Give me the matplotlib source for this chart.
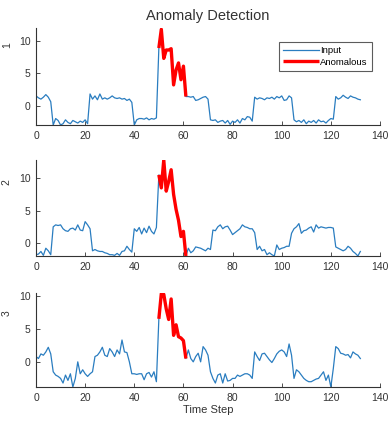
import matplotlib
matplotlib.use("Agg")
import matplotlib.pyplot as plt
import numpy as np

plt.rcParams['font.family'] = ['Liberation Sans', 'DejaVu Sans']

time_step = list(range(133))
anomaly_start = 50
anomaly_end = 61

series_1 = [1.5, 1.2, 1.0, 1.3, 1.7, 1.3, 0.6,
            -3.0, -2.0, -2.3, -3.0, -2.8, -2.2, -2.6, -2.8, -2.3, -2.5, -2.7, -2.4, -2.6, -2.2, -2.8,
            1.8, 1.0, 1.5, 0.9, 1.8, 1.0, 1.2, 1.0, 1.2, 1.5, 1.2, 1.1, 1.2, 1.0, 1.1, 0.8, 1.0, 0.5,
            -3.0, -2.2, -2.0, -2.0, -2.1, -1.9, -2.2, -2.0, -2.1, -1.9,
            8.9, 11.8, 7.3, 8.6, 8.6, 8.8, 3.2, 5.5, 6.6, 4.0, 6.1, 1.4,
            1.4, 1.3, 1.4, 0.8, 0.9, 1.1, 1.3, 1.4, 1.0,
            -2.2, -2.3, -2.2, -2.6, -2.4, -2.3, -2.7, -2.3, -2.9, -2.4, -2.6, -2.2, -2.7, -2.0, -2.2, -1.7, -1.8, -2.4,
            1.3, 1.0, 1.2, 1.1, 0.9, 1.2, 1.1, 1.3, 1.0, 1.4, 1.2, 1.5, 0.8, 0.9, 1.5, 1.2,
            -2.2, -2.5, -2.3, -2.6, -2.2, -2.8, -2.4, -2.6, -2.3, -2.7, -2.2, -2.5, -2.4, -2.7, -2.3, -2.0, -2.1,
            1.4, 1.0, 1.2, 1.6, 1.3, 1.1, 1.5, 1.3, 1.2, 1.0, 0.9]

series_2 = [-1.8, -1.7, -1.3, -1.9, -0.8, -1.2, -1.8,
            2.5, 2.8, 2.7, 2.8, 2.2, 1.9, 1.8, 2.2, 2.3, 2.0, 2.8, 2.0, 1.9, 3.3, 2.8, 2.2,
            -1.2, -1.0, -1.2, -1.3, -1.3, -1.5, -1.6, -1.8, -1.8, -1.9, -1.6, -1.9, -1.3, -1.2, -0.5, -1.0, -1.4,
            2.2, 1.8, 2.4, 1.4, 2.3, 1.6, 2.6, 1.8, 1.4, 2.4,
            10.5, 8.5, 12.8, 8.0, 9.5, 11.3, 7.5, 5.2, 3.5, 1.0, 1.8, -2.0,
            -0.8, -1.5, -1.2, -0.6, -0.7, -0.8, -1.0, -1.2, -0.8, -1.0,
            2.0, 1.9, 2.5, 2.8, 2.2, 2.5, 2.6, 2.0, 1.3, 1.6, 1.9, 2.2, 2.8, 2.5, 2.4, 2.2, 2.2, 1.6,
            -1.0, -0.5, -1.2, -1.0, -1.8, -1.5, -1.8, -2.0, -0.3, -1.0, -0.8, -0.7, -0.5, -0.5, 1.5,
            2.2, 2.5, 3.0, 1.5, 1.9, 2.0, 2.3, 2.5, 1.7, 2.8, 2.3, 2.5, 2.4, 2.3, 2.4, 2.4, 2.3,
            -0.6, -0.8, -1.0, -1.2, -1.0, -0.5, -0.8, -1.3, -1.6, -2.0, -1.3]

series_3 = [0.8, 0.5, 1.2, 1.0, 1.5, 2.2, 1.2,
            -1.5, -2.0, -2.2, -2.5, -3.2, -2.0, -2.8, -1.8, -3.8, -2.5, 0.0, -1.8, -1.2, -1.8, -2.2, -1.8, -1.5,
            0.8, 1.0, 1.5, 2.2, 1.0, 0.8, 2.0, 1.5, 0.8, 1.8, 1.2, 3.3, 1.5, 1.4, 0.0, -1.8,
            -1.8, -1.9, -1.8, -1.8, -2.7, -1.8, -1.6, -2.3, -1.5, -3.0,
            6.5, 10.3, 10.2, 8.0, 6.4, 9.5, 4.0, 5.6, 3.8, 3.6, 3.2, 0.5,
            1.8, 0.5, 0.0, 0.8, 1.3, 0.0, 2.3, 1.8, 1.0,
            -1.5, -2.5, -3.2, -2.0, -1.8, -3.2, -1.8, -2.9, -2.8, -2.5, -2.5, -2.0, -2.2, -2.0, -1.8, -1.8, -2.0, -2.5,
            1.5, 0.8, 0.2, 1.2, 1.3, 0.8, 0.3, -0.1, 0.5, 1.2, 1.6, 1.8, 1.5, 0.8, 2.7, 1.0,
            -2.5, -1.2, -1.5, -2.0, -2.5, -2.8, -3.0, -3.0, -2.8, -2.6, -2.5, -2.0, -1.5, -2.8, -2.0, -3.8, -1.0,
            2.3, 2.0, 1.3, 1.2, 1.0, 1.1, 0.6, 1.5, 1.2, 1.0, 0.5]

channel_labels = ["1", "2", "3"]
all_series = [series_1, series_2, series_3]
x_ticks = [0, 20, 40, 60, 80, 100, 120, 140]
y_ticks = [0, 5, 10]
y_limits = [(-3.0, 12.0), (-2.0, 12.8), (-3.8, 10.4)]
ylabel_pos = [0.82, 0.77, 0.79]

blue = '#2a7dc0'
dark = '#333333'

fig = plt.figure(figsize=(3.9, 4.25), dpi=100)
rects = [
    [36/390, (425-125)/425, 344/390, 97/425],
    [36/390, (425-256)/425, 344/390, 96/425],
    [36/390, (425-387)/425, 344/390, 94/425],
]

t = np.array(time_step)
for i, (series, rect) in enumerate(zip(all_series, rects)):
    ax = fig.add_axes(rect)
    y = np.array(series)
    ax.plot(t, y, color=blue, lw=0.9, label='Input')
    m = (t >= anomaly_start) & (t <= anomaly_end)
    ax.plot(t[m], y[m], color='red', lw=2.4, label='Anomalous',
            solid_joinstyle='round', solid_capstyle='butt')
    ax.set_xlim(0, 140)
    ax.set_ylim(*y_limits[i])
    ax.set_xticks(x_ticks)
    ax.set_yticks(y_ticks)
    for s in ['top', 'right']:
        ax.spines[s].set_visible(False)
    for s in ['left', 'bottom']:
        ax.spines[s].set_color(dark)
        ax.spines[s].set_linewidth(0.8)
    ax.tick_params(direction='in', length=3, width=0.6, colors=dark,
                   labelsize=7.5, pad=4)
    ax.set_ylabel(channel_labels[i], fontsize=7.5, color=dark)
    ax.yaxis.set_label_coords(-0.07, ylabel_pos[i])
    if i == 0:
        ax.set_title('Anomaly Detection', fontsize=10.5, color=dark, pad=6)
        leg = ax.legend(loc='upper right', bbox_to_anchor=(0.977, 0.86),
                        fontsize=6.8, frameon=True, fancybox=False,
                        handlelength=3.8, borderpad=0.45, labelspacing=0.3,
                        handletextpad=0.15, borderaxespad=0.0)
        leg.get_frame().set_edgecolor(dark)
        leg.get_frame().set_linewidth(0.8)
    if i == 2:
        ax.set_xlabel('Time Step', fontsize=8, color=dark, labelpad=2)

fig.savefig('out.png', dpi=100)
